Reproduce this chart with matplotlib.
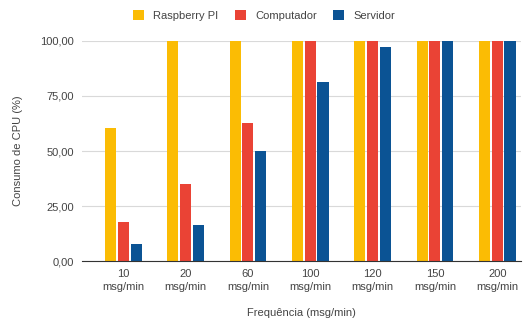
import matplotlib.pyplot as plt
import numpy as np

plt.rcParams['font.family'] = ['Liberation Sans', 'DejaVu Sans']

# data
categorias = ['10\nmsg/min', '20\nmsg/min', '60\nmsg/min', '100\nmsg/min',
              '120\nmsg/min', '150\nmsg/min', '200\nmsg/min']
raspberry = [60.5, 100, 100, 100, 100, 100, 100]
computador = [17.8, 35.2, 62.8, 100, 100, 100, 100]
servidor = [8.0, 16.6, 50.0, 81.3, 97.2, 100, 100]

series = [('Raspberry PI', raspberry, '#FBBC04'),
          ('Computador', computador, '#EA4335'),
          ('Servidor', servidor, '#0B5394')]

fig = plt.figure(figsize=(5.23, 3.22), dpi=100)
ax = fig.add_axes([0.157, 0.189, 0.839, 0.684])

x = np.arange(len(categorias))
largura = 0.177
passo = 0.205
for i, (nome, valores, cor) in enumerate(series):
    ax.bar(x + (i - 1) * passo, valores, largura, color=cor, label=nome, zorder=3)

ax.set_xlim(-0.66, len(categorias) - 0.62)
ax.set_ylim(0, 100)
ax.set_yticks([0, 25, 50, 75, 100])
ax.set_yticklabels(['0,00', '25,00', '50,00', '75,00', '100,00'])
ax.set_xticks(x)
ax.set_xticklabels(categorias, linespacing=1.35)
ax.tick_params(length=0, labelsize=8, colors='#444444', pad=6)
ax.grid(axis='y', color='#d9d9d9', linewidth=0.8, zorder=0)
for s in ['top', 'right', 'left']:
    ax.spines[s].set_visible(False)
ax.spines['bottom'].set_color('#333333')
ax.spines['bottom'].set_linewidth(0.8)
ax.spines['bottom'].set_zorder(4)

ax.set_ylabel('Consumo de CPU (%)', fontsize=8, color='#444444', labelpad=12)
ax.set_xlabel('Frequência (msg/min)', fontsize=8, color='#444444', labelpad=11)

fig.legend(loc='upper center', bbox_to_anchor=(0.505, 1.0), ncol=3, frameon=False,
           fontsize=8, labelcolor='#444444', handlelength=1.0, handleheight=1.0,
           columnspacing=1.5, handletextpad=0.8)

fig.savefig('out.png', dpi=100)
